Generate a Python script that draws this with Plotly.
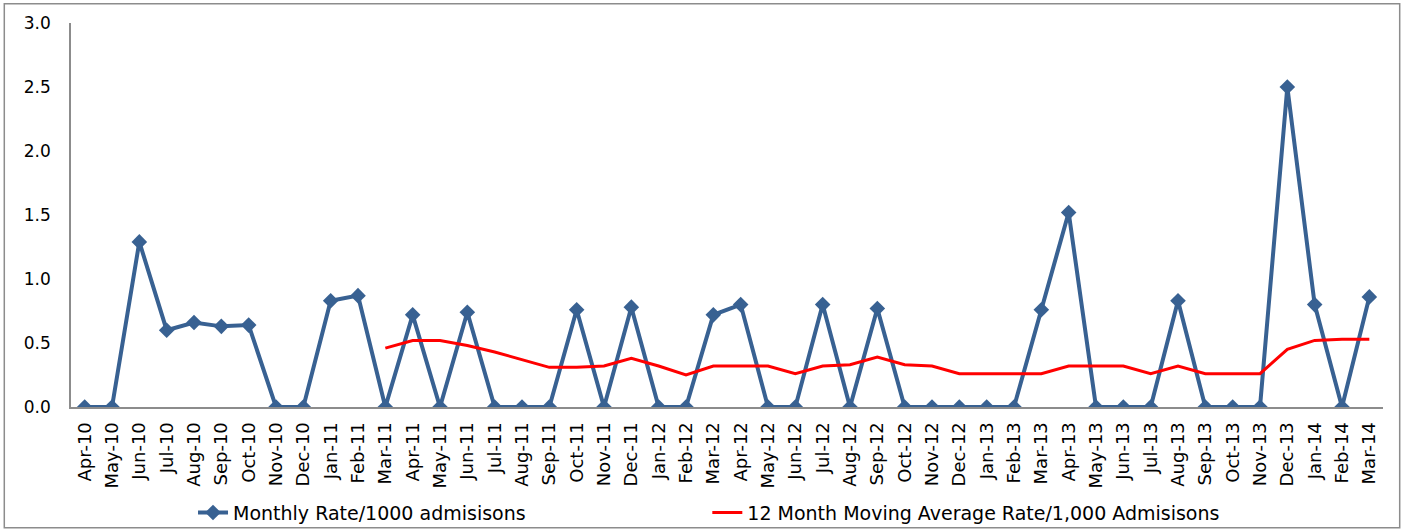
import plotly.graph_objects as go

# months on the x axis
months = ["Apr-10", "May-10", "Jun-10", "Jul-10", "Aug-10", "Sep-10", "Oct-10", "Nov-10", "Dec-10",
          "Jan-11", "Feb-11", "Mar-11", "Apr-11", "May-11", "Jun-11", "Jul-11", "Aug-11", "Sep-11",
          "Oct-11", "Nov-11", "Dec-11", "Jan-12", "Feb-12", "Mar-12", "Apr-12", "May-12", "Jun-12",
          "Jul-12", "Aug-12", "Sep-12", "Oct-12", "Nov-12", "Dec-12", "Jan-13", "Feb-13", "Mar-13",
          "Apr-13", "May-13", "Jun-13", "Jul-13", "Aug-13", "Sep-13", "Oct-13", "Nov-13", "Dec-13",
          "Jan-14", "Feb-14", "Mar-14"]

# monthly rate per 1000 admissions
monthly_rate = [0, 0, 1.29, 0.60, 0.66, 0.63, 0.64, 0, 0,
                0.83, 0.87, 0, 0.72, 0, 0.74, 0, 0, 0,
                0.76, 0, 0.78, 0, 0, 0.72, 0.80, 0, 0,
                0.80, 0, 0.77, 0, 0, 0, 0, 0, 0.76,
                1.52, 0, 0, 0, 0.83, 0, 0, 0, 2.50,
                0.80, 0, 0.86]

# 12 month moving average, starts at Mar-11
ma_months = months[11:]
moving_avg = [0.46, 0.52, 0.52, 0.48, 0.43, 0.37, 0.31, 0.31, 0.32, 0.38,
              0.32, 0.25, 0.32, 0.32, 0.32, 0.26, 0.32, 0.33, 0.39, 0.33,
              0.32, 0.26, 0.26, 0.26, 0.26, 0.32, 0.32, 0.32, 0.26, 0.32,
              0.26, 0.26, 0.26, 0.45, 0.52, 0.53, 0.53]

fnt = "Verdana, DejaVu Sans, sans-serif"

fig = go.Figure()
fig.add_trace(go.Scatter(
    x=months, y=monthly_rate, mode="lines+markers",
    name="Monthly Rate/1000 admisisons",
    line=dict(color="#386192", width=4),
    marker=dict(symbol="diamond", size=12, color="#386192"),
    legend="legend",
))
fig.add_trace(go.Scatter(
    x=ma_months, y=moving_avg, mode="lines",
    name="12 Month Moving Average Rate/1,000 Admisisons",
    line=dict(color="#FF0000", width=3),
    legend="legend2",
))

# outer chart border
fig.add_shape(type="rect", xref="paper", yref="paper",
              x0=-66.7 / 1312, x1=1328.7 / 1312, y0=-120.5 / 383.4, y1=402.7 / 383.4,
              line=dict(color="#8c8c8c", width=1.5), fillcolor="rgba(0,0,0,0)", layer="below")

leg = dict(orientation="h", xanchor="left", y=-0.275, yanchor="middle",
           font=dict(family=fnt, size=19), bgcolor="rgba(0,0,0,0)")

fig.update_layout(
    width=1405, height=529,
    margin=dict(l=70.7, r=22.3, t=23.3, b=122.3, autoexpand=False),
    paper_bgcolor="white", plot_bgcolor="white",
    font=dict(family=fnt, size=18, color="black"),
    showlegend=True,
    legend=dict(leg, x=0.093),
    legend2=dict(leg, x=0.485),
    xaxis=dict(type="category", range=[-0.5, 47.5], tickangle=-90, showgrid=False,
               zeroline=False, automargin=False,
               showline=True, linecolor="#8c8c8c", linewidth=2, ticks="",
               tickfont=dict(size=18), ticklabelstandoff=6),
    yaxis=dict(range=[0, 3], dtick=0.5, tickformat=".1f", showgrid=False, zeroline=False,
               automargin=False,
               showline=True, linecolor="#8c8c8c", linewidth=1.5, ticks="",
               tickfont=dict(size=17), ticklabelstandoff=15),
)

# drop the default page margin so the chart sits at the window's corner
fig.write_html("out.html", config={"displayModeBar": False},
               post_script="document.body.style.margin='0';")
